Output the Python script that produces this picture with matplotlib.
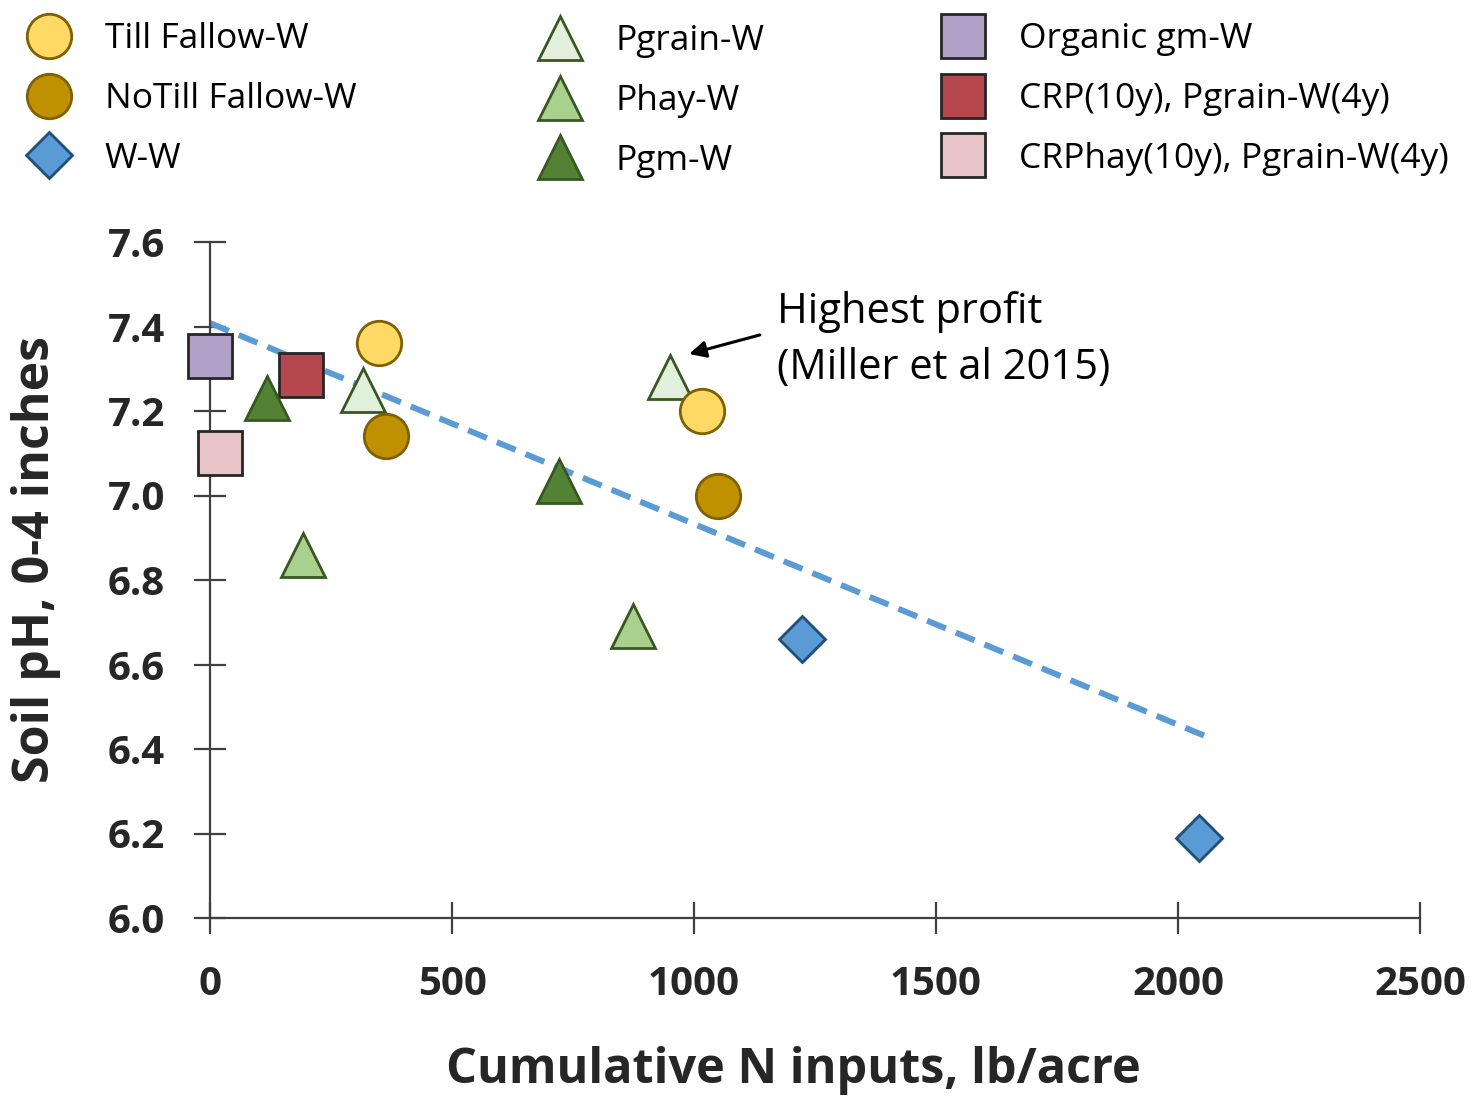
import matplotlib
matplotlib.use("Agg")
import matplotlib.pyplot as plt

# ---------------- data ----------------
till_x = [350, 1017]
till_y = [7.36, 7.20]
notill_x = [364, 1050]
notill_y = [7.14, 7.00]
ww_x = [1223, 2043]
ww_y = [6.66, 6.19]
pgrain_x = [316, 950]
pgrain_y = [7.25, 7.28]
phay_x = [192, 873]
phay_y = [6.86, 6.69]
pgm_x = [118, 722]
pgm_y = [7.23, 7.035]
organic_x = [0]
organic_y = [7.33]
crp_x = [188]
crp_y = [7.285]
crphay_x = [21]
crphay_y = [7.10]
trend_x = [0, 2066]
trend_y = [7.408, 6.426]

x_ticks = [0, 500, 1000, 1500, 2000, 2500]
y_ticks = [6.0, 6.2, 6.4, 6.6, 6.8, 7.0, 7.2, 7.4, 7.6]
y_ticklabels = ["6.0", "6.2", "6.4", "6.6", "6.8", "7.0", "7.2", "7.4", "7.6"]

series = [
    ("Till Fallow-W", till_x, till_y, "o", "#FFD966", "#7F6000", 32),
    ("NoTill Fallow-W", notill_x, notill_y, "o", "#BF9000", "#7F6000", 32),
    ("W-W", ww_x, ww_y, "D", "#5B9BD5", "#1F4E79", 23),
    ("Pgrain-W", pgrain_x, pgrain_y, "^", "#E2EFDA", "#385723", 32),
    ("Phay-W", phay_x, phay_y, "^", "#A9D18E", "#385723", 32),
    ("Pgm-W", pgm_x, pgm_y, "^", "#548235", "#385723", 32),
    ("Organic gm-W", organic_x, organic_y, "s", "#B1A0C7", "#262626", 32),
    ("CRP(10y), Pgrain-W(4y)", crp_x, crp_y, "s", "#B7474F", "#262626", 32),
    ("CRPhay(10y), Pgrain-W(4y)", crphay_x, crphay_y, "s", "#E8C4C9", "#262626", 32),
]

plt.rcParams['font.family'] = ['Open Sans', 'DejaVu Sans']

fig = plt.figure(figsize=(14.74, 10.96), dpi=100)
ax = fig.add_axes([210/1474, 1 - 918/1096, 1210/1474, 676/1096])

axis_col = "#404040"
text_col = "#262626"

# trend line
ax.plot(trend_x, trend_y, color="#5B9BD5", lw=4.3, dashes=(3.4, 1.8),
        zorder=2, solid_capstyle='butt', dash_capstyle='butt')

handles = {}
order = [6, 8, 7, 3, 4, 5, 0, 1, 2]
for i in order:
    name, xs, ys, mk, fc, ec, ms = series[i]
    h, = ax.plot(xs, ys, linestyle='none', marker=mk, markersize=ms,
                 markerfacecolor=fc, markeredgecolor=ec, markeredgewidth=2.0,
                 zorder=3, clip_on=False)
    handles[name] = h

ax.set_xlim(0, 2500)
ax.set_ylim(6.0, 7.6)
ax.set_xticks(x_ticks)
ax.set_xticklabels([str(v) for v in x_ticks])
ax.set_yticks(y_ticks)
ax.set_yticklabels(y_ticklabels)

for s in ['top', 'right']:
    ax.spines[s].set_visible(False)
for s in ['left', 'bottom']:
    ax.spines[s].set_color(axis_col)
    ax.spines[s].set_linewidth(1.6)

ax.tick_params(axis='both', direction='inout', length=23, width=1.6,
               color=axis_col, labelcolor=text_col, labelsize=29)
ax.tick_params(axis='y', pad=21)
ax.tick_params(axis='x', pad=22)
for lbl in ax.get_xticklabels() + ax.get_yticklabels():
    lbl.set_fontweight('bold')

ax.set_xlabel("Cumulative N inputs, lb/acre", fontsize=35, fontweight='bold',
              color=text_col)
ax.xaxis.set_label_coords(0.482, -0.19)
ax.xaxis.label.set_verticalalignment('top')
ax.set_ylabel("Soil pH, 0-4 inches", fontsize=36, fontweight='bold',
              color=text_col)
ax.yaxis.set_label_coords(-0.123, 0.531)

# annotation
ax.annotate("", xy=(990, 7.335), xytext=(1136, 7.38),
            arrowprops=dict(arrowstyle='-|>', color='black', lw=2.2,
                            mutation_scale=25, shrinkA=0, shrinkB=0))
ax.text(1172, 7.368, "Highest profit\n(Miller et al 2015)", fontsize=30,
        color='black', ha='left', va='center', linespacing=1.45)

# legends (three columns)
cols = [
    (["Till Fallow-W", "NoTill Fallow-W", "W-W"], 22, 99),
    (["Pgrain-W", "Phay-W", "Pgm-W"], 533, 101),
    (["Organic gm-W", "CRP(10y), Pgrain-W(4y)", "CRPhay(10y), Pgrain-W(4y)"], 936, 99),
]
for names, xl, yc in cols:
    hs = [handles[n] for n in names]
    leg = fig.legend(hs, names, loc='center left',
                     bbox_to_anchor=(xl/1474, 1 - yc/1096),
                     frameon=False, fontsize=25.5, numpoints=1,
                     handlelength=1.55, handletextpad=0.78, labelspacing=0.72,
                     borderpad=0, borderaxespad=0)
    for t in leg.get_texts():
        t.set_color('black')

fig.savefig("out.png", dpi=100)
